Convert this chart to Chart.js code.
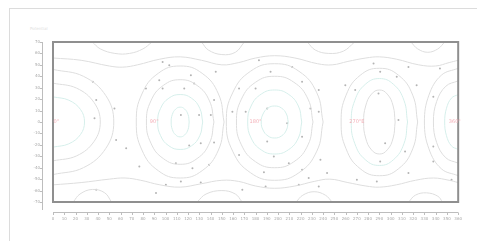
<!DOCTYPE html>
<html><head><meta charset="utf-8">
<script src="https://cdn.jsdelivr.net/npm/chart.js@4/dist/chart.umd.min.js"></script>
<style>
html,body{margin:0;padding:0;background:#fff;width:477px;height:241px;overflow:hidden;}
#card{position:absolute;left:9px;top:8px;width:600px;height:400px;border:1px solid #dcdcdc;}
#ttl{position:absolute;left:30px;top:26px;font:4px "DejaVu Sans";color:#e0e0e0;}
#wrap{position:absolute;left:0;top:0;width:477px;height:241px;}
</style></head><body>
<div id="card"></div>
<div id="ttl">Potential</div>
<div id="wrap"><canvas id="c" width="477" height="241"></canvas></div>
<script>
const xTicks=[0,10,20,30,40,50,60,70,80,90,100,110,120,130,140,150,160,170,180,190,200,210,220,230,240,250,260,270,280,290,300,310,320,330,340,350,360];
const yTicks=[-70,-60,-50,-40,-30,-20,-10,0,10,20,30,40,50,60,70];
// contour rings (closed)
const c1r1=[[121,0],[120,6.5],[117,11.3],[113,13],[109,11.3],[106,6.5],[105,0],[106,-6.5],[109,-11.3],[113,-13],[117,-11.3],[120,-6.5]];
const c1r2=[[133,0],[130.4,12],[123,20.9],[113,24],[103,20.9],[95.6,12],[93,0],[95.6,-12],[103,-20.9],[113,-24],[123,-20.9],[130.4,-12]];
const c1r3=[[143,0],[139,18.5],[128,32],[113,37],[98,32],[87,18.5],[83,0],[87,-18.5],[98,-32],[113,-37],[128,-32],[139,-18.5]];
const c1r4=[[152,0],[147,24.5],[132.5,42.6],[113,49],[93.5,42.6],[79,24.5],[74,0],[79,-24.5],[93.5,-42.6],[113,-49],[132.5,-42.6],[147,-24.5]];
const c2r1=[[209,0],[207.4,7],[203,12.2],[197,14],[191,12.2],[186.6,7],[185,0],[186.6,-7],[191,-12.2],[197,-14],[203,-12.2],[207.4,-7]];
const c2r2=[[221,0],[218,14],[209,24.4],[197,28],[185,24.4],[176,14],[173,0],[176,-14],[185,-24.4],[197,-28],[209,-24.4],[218,-14]];
const c2r3=[[231,0],[226.6,20],[214,34.8],[197,40],[180,34.8],[167.4,20],[163,0],[167.4,-20],[180,-34.8],[197,-40],[214,-34.8],[226.6,-20]];
const c2r4=[[240,0],[234.4,25.5],[218.5,44.4],[197,51],[175.5,44.4],[159.6,25.5],[154,0],[159.6,-25.5],[175.5,-44.4],[197,-51],[218.5,-44.4],[234.4,-25.5]];
const c3r1=[[304,0],[302.2,14],[297,24.4],[290,28],[283,24.4],[277.8,14],[276,0],[277.8,-14],[283,-24.4],[290,-28],[297,-24.4],[302.2,-14]];
const c3r2=[[315,0],[311.8,19],[302.5,33],[290,38],[277.5,33],[268.2,19],[265,0],[268.2,-19],[277.5,-33],[290,-38],[302.5,-33],[311.8,-19]];
const c3r3=[[324,0],[319.6,23.5],[307,40.9],[290,47],[273,40.9],[260.4,23.5],[256,0],[260.4,-23.5],[273,-40.9],[290,-47],[307,-40.9],[319.6,-23.5]];
// open arcs
const c0a1=[[0,22],[14,19.1],[24.4,11],[28,0],[24.4,-11],[14,-19.1],[0,-22]];
const c0a2=[[0,34],[21,29.6],[36.5,17],[42,0],[36.5,-17],[21,-29.6],[0,-34]];
const c0a3=[[0,46],[27,40],[47,23],[54,0],[47,-23],[27,-40],[0,-46]];
const c4a1=[[360,24],[354,20.9],[349.6,12],[348,0],[349.6,-12],[354,-20.9],[360,-24]];
const c4a2=[[360,36],[349,31.3],[340.9,18],[338,0],[340.9,-18],[349,-31.3],[360,-36]];
const c4a3=[[360,47],[345,40.9],[334,23.5],[330,0],[334,-23.5],[345,-40.9],[360,-47]];
const wTop=[[0,56],[25,54],[50,49],[62,48],[75,50],[95,55],[113,57],[132,54],[150,50],[165,52],[180,56],[197,58],[215,56],[235,51],[248,50],[262,53],[278,56],[290,57],[305,55],[325,50],[340,49],[352,52],[360,54]];
const wBot=[[0,-55],[25,-53],[50,-50],[64,-49],[78,-51],[95,-55],[113,-57],[132,-54],[150,-51],[165,-52],[180,-56],[197,-58],[215,-56],[232,-52],[246,-50],[262,-53],[278,-56],[290,-57],[305,-55],[322,-51],[338,-49],[352,-51],[360,-53]];
const eT1=[[35,70],[42,64],[55,60],[68,60],[80,64],[88,70]];
const eT2=[[132,70],[138,63],[150,59],[162,61],[170,70]];
const eT3=[[226,70],[233,63],[245,60],[258,62],[268,70]];
const eT4=[[318,70],[324,64],[333,61],[342,64],[348,70]];
const eB1=[[18,-70],[24,-63],[35,-59],[46,-62],[52,-70]];
const eB2=[[128,-70],[136,-63],[150,-60],[162,-63],[168,-70]];
const eB3=[[216,-70],[222,-64],[232,-61],[242,-64],[248,-70]];
const eB4=[[316,-70],[322,-64],[332,-62],[342,-65],[346,-70]];
// contour label dots
const dots=[[35.4,35.2],[38.4,19.2],[54.6,11.9],[36.9,3.2],[56.1,-15.7],[38.4,-59.3],[97.4,52.6],[103.3,49.7],[94.4,36.6],[82.6,29.3],[97.4,29.3],[122.5,41],[116.6,29.3],[125.4,33.7],[144.6,43.9],[143.1,19.2],[113.6,6.1],[129.8,6.1],[140.2,6.1],[121,-20.6],[131.3,-18.6],[143.1,-18],[109.2,-36],[123.9,-40.4],[138.7,-37.5],[113.6,-52],[131.3,-52.9],[100.3,-54.9],[76.7,-38.9],[91.5,-62.2],[165.3,29.3],[159.4,9],[171.2,9],[180,29.3],[183,54],[193.3,43.9],[212.5,48.2],[221.3,35.2],[236.1,27.9],[190.3,11.9],[208,-1.2],[228.7,11.9],[236.1,9],[190.3,-17.1],[221.3,-12.8],[196.2,-30.2],[209.5,-36],[165.3,-28.8],[187.4,-43.9],[221.3,-41.8],[227.2,-49.1],[218.4,-54.9],[236.1,-56.4],[188.9,-56.4],[168.2,-59.3],[237.6,-33.1],[243.5,-44.7],[259.7,32.2],[268.5,27.9],[284.8,51.1],[290.7,43.9],[305.4,39.5],[315.8,48.2],[323.1,32.2],[337.9,22.1],[343.8,46.8],[289.2,25],[306.9,1.7],[295.1,-18.6],[312.8,-25.9],[337.9,-21.5],[337.9,-34.6],[290.7,-34.6],[270,-50.5],[287.7,-52],[315.8,-44.7],[354.1,-50.5],[65,-23]];
const labelX=[3,90,180,270,357];
const labelText=["0°","90°","180°","270°E","360°"];

const teal='#d6efeb', gray='#dedede';
const closedRings=[[c1r1,teal],[c1r2,teal],[c1r3,gray],[c1r4,gray],[c2r1,teal],[c2r2,teal],[c2r3,gray],[c2r4,gray],[c3r1,gray],[c3r2,teal],[c3r3,gray]];
const openLines=[[c0a1,teal],[c0a2,gray],[c0a3,gray],[c4a1,teal],[c4a2,gray],[c4a3,gray],[wTop,gray],[wBot,gray],[eT1,gray],[eT2,gray],[eT3,gray],[eT4,gray],[eB1,gray],[eB2,gray],[eB3,gray],[eB4,gray]];
const toPts=a=>a.map(p=>({x:p[0],y:p[1]}));
const datasets=[];
closedRings.forEach(([r,c])=>datasets.push({data:toPts(r.concat([r[0]])),showLine:true,borderColor:c,borderWidth:1,pointRadius:0,tension:0.45,fill:false}));
openLines.forEach(([r,c])=>datasets.push({data:toPts(r),showLine:true,borderColor:c,borderWidth:1,pointRadius:0,tension:0.4,fill:false}));
datasets.push({data:toPts(dots),showLine:false,pointRadius:1,pointBorderWidth:0,backgroundColor:'#b4b4b4',borderColor:'#b4b4b4'});

const deco={id:'deco',
 afterDatasetsDraw(ch){
  const ctx=ch.ctx,a=ch.chartArea,xs=ch.scales.x,ys=ch.scales.y;
  ctx.save();
  ctx.strokeStyle='#8f8f8f';ctx.lineWidth=2;
  ctx.strokeRect(a.left,a.top,a.right-a.left,a.bottom-a.top);
  ctx.font='5px "DejaVu Sans"';ctx.fillStyle='#f4b0b8';ctx.textAlign='center';ctx.textBaseline='middle';
  labelX.forEach((v,i)=>ctx.fillText(labelText[i],xs.getPixelForValue(v),ys.getPixelForValue(0)));
  // offset y axis
  ctx.strokeStyle='#bdbdbd';ctx.lineWidth=1;
  ctx.beginPath();ctx.moveTo(42.5,a.top);ctx.lineTo(42.5,a.bottom+8);ctx.stroke();
  yTicks.forEach(v=>{const p=Math.round(ys.getPixelForValue(v))+0.5;ctx.beginPath();ctx.moveTo(40,p);ctx.lineTo(42.5,p);ctx.stroke();});
  // offset x axis
  ctx.beginPath();ctx.moveTo(a.left,212.5);ctx.lineTo(a.right,212.5);ctx.stroke();
  xTicks.forEach(v=>{const p=Math.round(xs.getPixelForValue(v))+0.5;ctx.beginPath();ctx.moveTo(p,212.5);ctx.lineTo(p,215);ctx.stroke();});
  ctx.restore();
 }};

new Chart(document.getElementById('c'),{
 type:'scatter',
 data:{datasets},
 plugins:[deco],
 options:{responsive:false,animation:false,
  layout:{padding:{left:33,right:17,top:42,bottom:18}},
  plugins:{legend:{display:false},tooltip:{enabled:false},title:{display:false}},
  scales:{
   x:{type:'linear',min:0,max:360,
      afterBuildTicks:s=>{s.ticks=xTicks.map(v=>({value:v}));},
      afterFit:s=>{s.height=21;},
      grid:{display:false,drawTicks:false},border:{display:false},
      ticks:{autoSkip:false,maxRotation:0,minRotation:0,padding:15,font:{size:4,family:'DejaVu Sans'},color:'#a8a8a8'}},
   y:{type:'linear',min:-70,max:70,
      afterBuildTicks:s=>{s.ticks=yTicks.map(v=>({value:v}));},
      afterFit:s=>{s.width=20;},
      grid:{display:false,drawTicks:false},border:{display:false},
      ticks:{autoSkip:false,padding:13,font:{size:4,family:'DejaVu Sans'},color:'#a8a8a8'}}
  }}
});
</script>
</body></html>
